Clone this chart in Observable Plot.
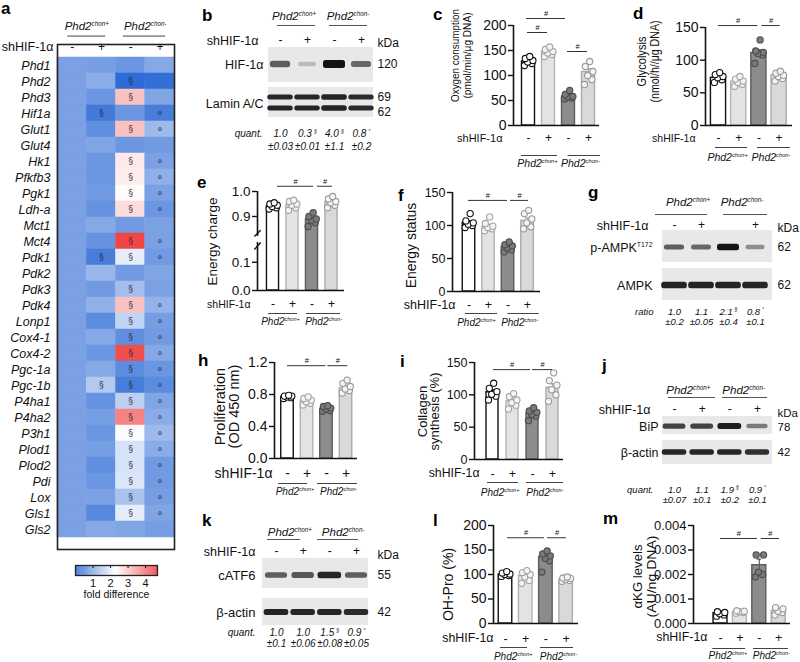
<!DOCTYPE html>
<html><head><meta charset="utf-8">
<script src="https://cdn.jsdelivr.net/npm/d3@7"></script>
<script src="https://cdn.jsdelivr.net/npm/@observablehq/plot@0.6"></script>
<style>
body{margin:0;background:#fff;}
#fig{position:relative;width:800px;height:662px;overflow:hidden;font-family:"Liberation Sans",Arial,sans-serif;background:#fff;}
.panel{position:absolute;}
.letter{position:absolute;font-weight:bold;font-size:17px;line-height:1;color:#000;}
</style></head><body>
<svg width="0" height="0" style="position:absolute"><defs><filter id="blur" x="-30%" y="-80%" width="160%" height="260%"><feGaussianBlur stdDeviation="1.1"/></filter></defs></svg>
<div id="fig"></div>
<script>
// ---------------- shared labels ----------------
const shSigns = ["-", "+", "-", "+"];
const gSigns = ["-", "+", "", "+"];
const genotypes = ["Phd2^chon+", "Phd2^chon-"];

// ---------------- (a) heatmap ----------------
const genes = ["Phd1","Phd2","Phd3","Hif1a","Glut1","Glut4","Hk1","Pfkfb3","Pgk1","Ldh-a","Mct1","Mct4","Pdk1","Pdk2","Pdk3","Pdk4","Lonp1","Cox4-1","Cox4-2","Pgc-1a","Pgc-1b","P4ha1","P4ha2","P3h1","Plod1","Plod2","Pdi","Lox","Gls1","Gls2"];
const foldCtrl = [1,1,1,1,1,1,1,1,1,1,1,1,1,1,1,1,1,1,1,1,1,1,1,1,1,1,1,1,1,1];
const foldSh   = [0.95,1.15,0.85,0.45,0.75,1.05,0.85,0.85,0.9,0.8,1.1,0.8,0.5,1.3,0.9,1.2,0.7,1.1,0.85,1.1,1.55,0.8,0.95,0.85,0.95,0.75,0.85,1.0,0.65,1.1];
const foldKo   = [0.85,0.25,3.0,0.85,3.0,0.85,2.55,2.5,2.35,2.7,0.9,4.4,2.05,0.9,1.4,3.0,1.7,0.75,4.3,0.7,0.5,1.65,3.7,2.25,1.9,1.9,1.95,1.45,2.05,1.05];
const foldKoSh = [1.1,0.3,1.05,0.5,1.35,0.9,1.0,1.2,1.0,0.85,1.0,1.0,0.9,1.05,1.0,1.25,0.95,0.9,1.1,0.85,0.7,1.05,1.15,1.35,1.15,0.9,0.9,0.95,1.05,0.95];
const sigSh = ["Hif1a","Pdk1","Pgc-1b"];
const sigKo = ["Phd2","Phd3","Glut1","Hk1","Pfkfb3","Pgk1","Ldh-a","Mct4","Pdk1","Pdk3","Pdk4","Lonp1","Cox4-1","Cox4-2","Pgc-1a","Pgc-1b","P4ha1","P4ha2","P3h1","Plod1","Plod2","Pdi","Lox","Gls1"];
const sigKoSh = ["Hif1a","Glut1","Hk1","Pfkfb3","Pgk1","Ldh-a","Mct4","Pdk1","Pdk4","Lonp1","Cox4-1","Cox4-2","Pgc-1a","Pgc-1b","P4ha1","P4ha2","P3h1","Plod1","Plod2","Pdi","Lox","Gls1"];
const colorTicks = [1, 2, 3, 4];

// ---------------- bar-chart data ----------------
const o2Mean = [128, 148, 58, 107], o2Sem = [3, 3, 2.5, 7];
const o2Pts = [[120,124,127,130,134,138],[138,142,145,148,152,157],[53,55,57,58,62,70],[82,92,100,108,118,128]];
const o2Sig = [{a:0.9,b:2.85,y:214},{a:0.95,b:1.95,y:186},{a:2.95,b:3.95,y:148}];

const glyMean = [73, 67, 111, 77], glySem = [2.5, 2, 5, 2.5];
const glyPts = [[66,70,73,75,78,81],[60,63,66,68,71,75],[95,108,110,112,114,131],[68,72,75,77,80,83]];
const glySig = [{a:1,b:2.95,y:153},{a:3.15,b:4.05,y:153}];

const ecMean = [0.941, 0.946, 0.889, 0.957], ecSem = [0.004, 0.006, 0.008, 0.007];
const ecPts = [[0.930,0.935,0.940,0.945,0.950,0.955],[0.925,0.935,0.945,0.950,0.960,0.965],[0.860,0.875,0.885,0.890,0.900,0.915],[0.935,0.945,0.955,0.960,0.970,0.980]];
const ecSig = [{a:1.23,b:3.08,y:1.021},{a:3.28,b:4.05,y:1.021}];

const esMean = [104, 98, 68, 107], esSem = [3, 3, 2.5, 4.5];
const esPts = [[97,100,102,104,107,118],[92,95,97,99,103,113],[60,63,66,69,71,75],[95,98,104,110,118,123]];
const esSig = [{a:0.97,b:2.97,y:138},{a:3.13,b:4.05,y:138}];

const prMean = [0.77, 0.72, 0.62, 0.88], prSem = [0.01, 0.015, 0.012, 0.025];
const prPts = [[0.75,0.76,0.77,0.78,0.78,0.79],[0.67,0.69,0.71,0.73,0.75,0.77],[0.59,0.60,0.62,0.63,0.65,0.66],[0.82,0.85,0.87,0.90,0.94,0.98]];
const prSig = [{a:1.0,b:2.97,y:1.16},{a:3.07,b:4.1,y:1.16}];

const coMean = [104, 90, 72, 111], coSem = [4, 4, 3, 6];
const coPts = [[92,98,101,105,110,118],[78,84,88,92,97,102],[60,67,70,73,75,80],[90,100,108,115,122,134]];
const coSig = [{a:1.05,b:2.9,y:139},{a:3.0,b:4.0,y:139}];

const ohMean = [100, 97, 136, 90], ohSem = [1.5, 4, 6, 1.5];
const ohPts = [[96,98,100,101,103,106],[82,88,95,100,104,108],[105,128,133,138,142,148],[86,88,90,92,93,95]];
const ohSig = [{a:1.1,b:2.93,y:175},{a:3.08,b:4.02,y:175}];

const kgMean = [0.00042, 0.00048, 0.00238, 0.00052], kgSem = [0.00004, 0.00002, 0.00025, 0.00005];
const kgPts = [[0.00030,0.00035,0.00040,0.00045,0.00048],[0.00042,0.00045,0.00048,0.00050,0.00052],[0.00190,0.00200,0.00210,0.00280,0.00280],[0.00035,0.00045,0.00050,0.00060,0.00065]];
const kgSig = [{a:1.0,b:2.9,y:0.00347},{a:3.1,b:4.04,y:0.00347}];

// ---------------- western blot data ----------------
const hifDens = [0.6, 0.1, 1.0, 0.55], laminDens = [0.9, 0.9, 0.92, 0.88];
const hifQ = [1.0, 0.3, 4.0, 0.8], hifQsem = [0.03, 0.01, 1.1, 0.2], hifQsig = ["", "§", "§", "°"];
const pampkDens = [0.6, 0.55, 1.0, 0.35], ampkDens = [0.92, 0.92, 0.92, 0.9];
const ampkQ = [1.0, 1.1, 2.1, 0.8], ampkQsem = [0.2, 0.05, 0.4, 0.1], ampkQsig = ["", "", "§", "°"];
const bipDens = [0.75, 0.75, 0.95, 0.45], actinJDens = [0.9, 0.9, 0.9, 0.85];
const bipQ = [1.0, 1.1, 1.9, 0.9], bipQsem = [0.07, 0.1, 0.2, 0.1], bipQsig = ["", "", "§", "°"];
const atf6Dens = [0.6, 0.65, 0.9, 0.6], actinKDens = [0.92, 0.9, 0.9, 0.88];
const atf6Q = [1.0, 1.0, 1.5, 0.9], atf6Qsem = [0.1, 0.06, 0.08, 0.05], atf6Qsig = ["", "", "§", "°"];

// ---------------- styling ----------------
const FONT = "'Liberation Sans', Arial, Helvetica, sans-serif";
const barFill = ["#ffffff", "#e3e3e3", "#8c8c8c", "#d9d9d9"];
const barStroke = ["#111111", "#b4b4b4", "#5c5c5c", "#ababab"];
const dotFill = ["#ffffff", "#f4f4f4", "#7a7a7a", "#f4f4f4"];
const dotStroke = ["#111111", "#a4a4a4", "#4c4c4c", "#9a9a9a"];
const swarm = [-0.2, 0.17, -0.04, 0.22, -0.16, 0.06];
const FIT = {"Oxygen consumption": 93, "(pmol/min/μg DNA)": 86, "Glycolysis": 50, "(nmol/h//μg DNA)": 82, "αKG levels": 64, "(AU/ng DNA)": 82};
const blue = "#1559d0", white = "#ffffff", red = "#ee2b2b", pivot = 2.3 / 4.7;
const foldColor = t => t < pivot ? d3.interpolateRgb(blue, white)(t / pivot) : d3.interpolateRgb(white, red)((t - pivot) / (1 - pivot));
// broken-axis mapping for panel e (value -> pixels above the baseline)
const ecBreak = v => v <= 0.17 ? v / 0.17 * 48 : v <= 0.82 ? 48 + (v - 0.17) / 0.65 * 6 : 54 + (v - 0.82) / 0.18 * 45;

const fig = document.getElementById("fig");
const NS = "http://www.w3.org/2000/svg";

function finish(svg) {
  svg.querySelectorAll("text").forEach(t => {
    const s = t.textContent;
    if (s.includes("^")) {
      const [a, b] = s.split("^");
      t.textContent = "";
      const t1 = document.createElementNS(NS, "tspan"); t1.textContent = a;
      const t2 = document.createElementNS(NS, "tspan"); t2.textContent = b;
      t2.setAttribute("font-size", "55%"); t2.setAttribute("dy", "-0.62em");
      t.append(t1, t2);
    }
    if (FIT[s] != null) { t.setAttribute("textLength", FIT[s]); t.setAttribute("lengthAdjust", "spacingAndGlyphs"); }
  });
  svg.querySelectorAll('g[aria-label="band"]').forEach(g => g.setAttribute("filter", "url(#blur)"));
}

function mkPlot(box, opts) {
  const svg = Plot.plot({
    width: box.w, height: box.h, ...opts,
    style: {background: "none", fontFamily: FONT, fontSize: "12px", color: "#111", overflow: "visible"}
  });
  finish(svg);
  const d = document.createElement("div");
  d.className = "panel"; d.style.left = box.x + "px"; d.style.top = box.y + "px";
  d.appendChild(svg); fig.appendChild(d);
  return svg;
}

function letter(ch, x, y) {
  const d = document.createElement("div");
  d.className = "letter"; d.textContent = ch; d.style.left = x + "px"; d.style.top = y + "px";
  fig.appendChild(d);
}

// ---------------- bar panel ----------------
function barPanel(L, mean, sem, pts, sigs) {
  const xmin = 1 - (L.c1 - L.axisX) / L.s, xmax = 1 + (L.xEnd - L.c1) / L.s;
  const groups = mean.map((m, i) => ({g: i + 1, m, e: sem[i], fill: barFill[i], stroke: barStroke[i]}));
  const dots = pts.flatMap((arr, i) => arr.map((v, j) => ({x: i + 1 + swarm[j], v, fill: dotFill[i], stroke: dotStroke[i]})));
  const ymax = L.top;
  const yOpt = L.transform
    ? {transform: L.transform, domain: [0, L.transform(ymax)], label: null, axis: null}
    : {domain: [0, ymax], label: null, axis: null};
  const fmt = d3.format(L.fmt);
  const hb = L.bw / 2;
  const tick = 5 / L.s; // 5px tick length in x units
  const segs = L.axisSegs || [[0, ymax]];
  const gs = L.glShift || [0, 0];
  const marks = [
    Plot.rect(groups, {x1: d => d.g - hb, x2: d => d.g + hb, y1: 0, y2: "m", fill: "fill", stroke: "stroke", strokeWidth: 1.4}),
    Plot.ruleX(groups, {x: "g", y1: d => d.m - d.e, y2: d => d.m + d.e, stroke: "stroke", strokeWidth: 1.2}),
    Plot.ruleY(groups, {y: d => d.m + d.e, x1: d => d.g - 0.13, x2: d => d.g + 0.13, stroke: "stroke", strokeWidth: 1.2}),
    Plot.dot(dots, {x: "x", y: "v", r: 3.1, fill: "fill", stroke: "stroke", strokeWidth: 1.1}),
    Plot.ruleX(segs, {x: xmin, y1: d => d[0], y2: d => d[1], stroke: "#111", strokeWidth: 1.6}),
    Plot.ruleY([0], {x1: xmin, x2: xmax, stroke: "#111", strokeWidth: 1.6}),
    Plot.ruleY(L.ticks, {y: d => d, x1: xmin - tick, x2: xmin, stroke: "#111", strokeWidth: 1.4}),
    Plot.text(L.ticks, {x: xmin, y: d => d, dx: -7, text: d => fmt(d), textAnchor: "end", fontSize: L.tickFont}),
    Plot.text(shSigns, {x: (d, i) => i + 1, y: 0, dy: L.rowY - L.y0, fontSize: L.signFont}),
    Plot.text(["shHIF-1α"], {x: xmin, y: 0, dx: L.shRight - L.axisX, dy: L.rowY - L.y0, textAnchor: "end", fontSize: L.shFont}),
    Plot.ruleY(L.ul, {y: 0, x1: d => d[0], x2: d => d[1], dy: L.ulY - L.y0, stroke: "#444", strokeWidth: 1}),
    Plot.text(genotypes, {x: (d, i) => 2 * i + 1.5 + gs[i], y: 0, dy: L.glY - L.y0, fontStyle: "italic", fontSize: L.glFont}),
    Plot.ruleY(sigs, {y: "y", x1: "a", x2: "b", stroke: "#333", strokeWidth: 1}),
    Plot.text(sigs, {x: d => (d.a + d.b) / 2, y: "y", text: () => "#", dy: -5, fontSize: 7.5}),
    ...L.title.map((t, i) => Plot.text([t], {x: xmin, y: 0, rotate: -90, dx: L.titleX[i] - L.axisX, dy: L.titleCY - L.y0, fontSize: L.titleFont}))
  ];
  if (L.breaks) {
    marks.push(Plot.link([{a: 0.82, b: 0.845}, {a: 0.145, b: 0.17}],
      {x1: xmin - 0.16, x2: xmin + 0.16, y1: "a", y2: "b", stroke: "#111", strokeWidth: 1.4}));
  }
  return mkPlot(L.box, {
    marginLeft: L.axisX - L.box.x, marginRight: L.box.x + L.box.w - L.xEnd,
    marginTop: L.yTop - L.box.y, marginBottom: L.box.y + L.box.h - L.y0,
    x: {domain: [xmin, xmax], axis: null},
    y: yOpt,
    color: {type: "identity"},
    marks
  });
}

// ---------------- blot panel ----------------
function blotPanel(L, dens, q, qsem, qsig) {
  const sp = (L.lanes[3] - L.lanes[0]) / 3;
  const u = px => (px - L.lanes[0]) / sp + 1;
  const bands = [];
  L.blots.forEach((b, bi) => dens[bi].forEach((dv, li) => b.bandY.forEach(by => bands.push({lane: li + 1, y: by, d: dv, w: b.w / sp, th: b.th}))));
  const boxes = L.blots.map(b => ({x1: u(L.boxX[0]), x2: u(L.boxX[1]), y1: b.top, y2: b.bottom}));
  const kd = L.blots.flatMap(b => b.kd.map(([t, y]) => ({t, y})));
  const q1 = q.map((v, i) => d3.format(".1f")(v) + (qsig[i] ? "\u2009^" + qsig[i] : ""));
  const q2 = qsem.map(v => "±" + v);
  const F = L.font;
  return mkPlot(L.box, {
    x: {domain: [1, 4], range: [L.lanes[0] - L.box.x, L.lanes[3] - L.box.x], axis: null},
    y: {domain: [L.box.y, L.box.y + L.box.h], range: [0, L.box.h], axis: null},
    opacity: {type: "identity"},
    marks: [
      Plot.rect(boxes, {x1: "x1", x2: "x2", y1: "y1", y2: "y2", fill: "#e8e8e8"}),
      Plot.rect(bands, {
        x1: d => d.lane - d.w * (0.8 + 0.2 * d.d) / 2, x2: d => d.lane + d.w * (0.8 + 0.2 * d.d) / 2,
        y1: d => d.y - d.th * (0.5 + 0.5 * d.d) / 2, y2: d => d.y + d.th * (0.5 + 0.5 * d.d) / 2,
        fill: "#141414", fillOpacity: d => 0.12 + 0.88 * d.d, rx: 2.5, ariaLabel: "band"}),
      Plot.text(L.blots, {x: u(L.labelRight), y: "labelY", text: "label", textAnchor: "end", fontSize: F.label}),
      Plot.text(kd, {x: u(L.kda.x), y: "y", text: "t", textAnchor: "start", fontSize: F.kd}),
      Plot.text(["kDa"], {x: u(L.kda.x), y: L.kda.y, textAnchor: "start", fontSize: F.kd}),
      Plot.text(genotypes, {x: (d, i) => 2 * i + 1.5, y: L.hdrY, fontStyle: "italic", fontSize: F.hdr}),
      Plot.ruleY(L.ul, {y: L.ulY, x1: d => u(d[0]), x2: d => u(d[1]), stroke: "#555", strokeWidth: 1}),
      Plot.text(L.signs, {x: (d, i) => i + 1, y: L.signY, fontSize: F.sign}),
      Plot.text(["shHIF-1α"], {x: u(L.shRight), y: L.signY, textAnchor: "end", fontSize: F.sh}),
      Plot.text([L.quant.label], {x: u(L.quant.right), y: L.quant.y1, textAnchor: "end", fontStyle: "italic", fontSize: F.q}),
      Plot.text(q1, {x: (d, i) => i + 1, y: L.quant.y1, fontStyle: "italic", fontSize: F.q}),
      Plot.text(q2, {x: (d, i) => i + 1, y: L.quant.y2, fontStyle: "italic", fontSize: F.q})
    ]
  });
}

// ================= (a) heatmap =================
const heatCols = [foldCtrl, foldSh, foldKo, foldKoSh];
const cells = genes.flatMap((g, r) => heatCols.map((arr, c) => ({gene: g, col: c + 1, v: arr[r]})));
const annotS = [...sigSh.map(g => ({gene: g, col: 2})), ...sigKo.map(g => ({gene: g, col: 3}))];
const annotO = sigKoSh.map(g => ({gene: g, col: 4}));
const rowH = (549 - 44) / genes.length, rc0 = 44 + rowH / 2;
const colorOpt = {type: "linear", domain: [0, 4.7], interpolate: foldColor};
mkPlot({x: 0, y: 0, w: 200, h: 560}, {
  marginLeft: 57, marginRight: 26, marginTop: 44, marginBottom: 11,
  x: {domain: [0.5, 4.5], axis: null},
  y: {domain: genes, padding: 0, axis: null},
  color: colorOpt,
  marks: [
    Plot.barX(cells, {x1: d => d.col - 0.5, x2: d => d.col + 0.5, y: "gene", fill: "v", stroke: "v", strokeWidth: 0.5}),
    Plot.text(annotS, {x: "col", y: "gene", text: () => "§", fontSize: 8.5, fill: "#262a40"}),
    Plot.text(annotO, {x: "col", y: "gene", text: () => "°", fontSize: 12, dy: 3, fill: "#262a40"}),
    Plot.frame({stroke: "#222", strokeWidth: 1.6}),
    Plot.text(genes, {y: d => d, frameAnchor: "left", dx: -7, textAnchor: "end", fontStyle: "italic", fontSize: 12.5}),
    Plot.text(shSigns, {x: (d, i) => i + 1, y: () => genes[0], dy: 34 - rc0, fontSize: 12}),
    Plot.text(["shHIF-1α"], {x: 0.5, y: () => genes[0], dx: -4, dy: 34 - rc0, textAnchor: "end", fontSize: 12.5}),
    Plot.text(genotypes, {x: (d, i) => 2 * i + 1.5, y: () => genes[0], dy: 13 - rc0, fontStyle: "italic", fontSize: 11.5}),
    Plot.ruleY([[0.85, 2.15], [2.75, 4.2]], {y: () => genes[0], x1: d => d[0], x2: d => d[1], dy: 23 - rc0, stroke: "#444", strokeWidth: 1})
  ]
});
// colour bar
const cbSteps = d3.range(0, 4.68, 0.03).map(v => ({a: v, b: v + 0.032}));
mkPlot({x: 60, y: 555, w: 120, h: 50}, {
  marginLeft: 15, marginRight: 23, marginTop: 10, marginBottom: 30,
  x: {domain: [0, 4.68], axis: null},
  y: {domain: [0, 1], axis: null},
  color: colorOpt,
  marks: [
    Plot.rect(cbSteps, {x1: "a", x2: "b", y1: 0, y2: 1, fill: "a"}),
    Plot.ruleX(colorTicks, {y1: 1, y2: 0.7, stroke: "#111", strokeWidth: 1}),
    Plot.frame({stroke: "#222", strokeWidth: 1.3}),
    Plot.text(colorTicks, {x: d => d, y: 0, dy: 8, fontSize: 11}),
    Plot.text(["fold difference"], {frameAnchor: "bottom", dy: 22, fontSize: 10.5})
  ]
});

// ================= bar panels =================
barPanel({box:{x:400,y:0,w:200,h:175}, axisX:513, c1:528, s:20, xEnd:599, yTop:25, y0:125, top:200, ticks:[0,50,100,150,200], fmt:"d", tickFont:14, bw:0.65, rowY:138, shRight:502, shFont:11, signFont:12, ulY:155, ul:[[0.65,2.45],[2.98,4.6]], glY:163, glFont:10.5, glShift:[-0.05,0.1], title:["Oxygen consumption","(pmol/min/μg DNA)"], titleX:[455,467], titleCY:55, titleFont:10.5},
  o2Mean, o2Sem, o2Pts, o2Sig);
barPanel({box:{x:600,y:0,w:200,h:175}, axisX:705, c1:718, s:20.2, xEnd:792, yTop:27, y0:125, top:150, ticks:[0,50,100,150], fmt:"d", tickFont:14, bw:0.75, rowY:138, shRight:695, shFont:10.5, signFont:12, ulY:147, ul:[[0.85,2.44],[2.93,4.56]], glY:157, glFont:10.5, glShift:[-0.05,0.1], title:["Glycolysis","(nmol/h//μg DNA)"], titleX:[641,654], titleCY:61, titleFont:13},
  glyMean, glySem, glyPts, glySig);
barPanel({box:{x:200,y:175,w:200,h:160}, axisX:257, c1:272.5, s:19.5, xEnd:344, yTop:191, y0:290, top:1.0, transform: ecBreak, axisSegs:[[0,0.17],[0.82,1.0]], breaks:true, ticks:[0,0.1,0.9,1.0], fmt:".1f", tickFont:13.5, bw:0.62, rowY:304, shRight:250, shFont:10.5, signFont:12, ulY:313, ul:[[0.77,2.26],[2.72,4.46]], glY:321, glFont:10, glShift:[-0.12,0.1], title:["Energy charge"], titleX:[212], titleCY:241, titleFont:13.5},
  ecMean, ecSem, ecPts, ecSig);
barPanel({box:{x:400,y:175,w:200,h:160}, axisX:452, c1:468.5, s:19.5, xEnd:540, yTop:192, y0:291, top:150, ticks:[0,50,100,150], fmt:"d", tickFont:12.5, bw:0.64, rowY:304, shRight:455, shFont:12.5, signFont:12.5, ulY:313, ul:[[0.82,2.46],[3.0,4.6]], glY:322, glFont:10, glShift:[-0.12,0.1], title:["Energy status"], titleX:[411], titleCY:245, titleFont:14},
  esMean, esSem, esPts, esSig);
barPanel({box:{x:200,y:340,w:200,h:165}, axisX:274, c1:287, s:19.5, xEnd:357, yTop:362, y0:458, top:1.2, ticks:[0,0.4,0.8,1.2], fmt:".1f", tickFont:14, bw:0.64, rowY:473, shRight:272, shFont:14, signFont:14, ulY:483, ul:[[0.54,2.03],[2.54,4.59]], glY:491, glFont:10, glShift:[-0.12,0.12], title:["Proliferation","(OD 450 nm)"], titleX:[220,234], titleCY:406, titleFont:14.5},
  prMean, prSem, prPts, prSig);
barPanel({box:{x:400,y:340,w:200,h:165}, axisX:474, c1:492, s:20, xEnd:563, yTop:362, y0:459, top:150, ticks:[0,50,100,150], fmt:"d", tickFont:12.5, bw:0.6, rowY:473, shRight:479, shFont:12.3, signFont:12.5, ulY:482, ul:[[0.75,2.3],[2.7,4.55]], glY:492, glFont:10, glShift:[-0.12,0.12], title:["Collagen","synthesis (%)"], titleX:[422,434], titleCY:411, titleFont:13},
  coMean, coSem, coPts, coSig);
barPanel({box:{x:400,y:505,w:200,h:157}, axisX:493, c1:505, s:20.2, xEnd:578, yTop:525, y0:623, top:200, ticks:[0,50,100,150,200], fmt:"d", tickFont:14, bw:0.67, rowY:638, shRight:493, shFont:12.4, signFont:12.5, ulY:647, ul:[[0.75,2.09],[2.73,4.37]], glY:656, glFont:10, glShift:[-0.12,0.12], title:["OH-Pro (%)"], titleX:[448], titleCY:584, titleFont:14},
  ohMean, ohSem, ohPts, ohSig);
barPanel({box:{x:600,y:508,w:200,h:154}, axisX:693, c1:720, s:19.4, xEnd:790, yTop:525, y0:623, top:0.004, ticks:[0,0.001,0.002,0.003,0.004], fmt:".3f", tickFont:13, bw:0.72, rowY:637, shRight:707, shFont:12.4, signFont:12.5, ulY:648, ul:[[0.6,2.3],[2.7,4.5]], glY:655, glFont:10, glShift:[-0.12,0.12], title:["αKG levels","(AU/ng DNA)"], titleX:[637,651], titleCY:576, titleFont:13.5},
  kgMean, kgSem, kgPts, kgSig);

// ================= blot panels =================
const fontB = {label: 12.5, kd: 12, hdr: 11.5, sign: 12, sh: 12.5, q: 10};
blotPanel({box:{x:200,y:0,w:200,h:175}, lanes:[280,308,335,361], boxX:[268,373], hdrY:16, ulY:25, ul:[[277,315],[329,367]], signY:40, signs: shSigns, shRight:258, kda:{x:377,y:43},
  blots:[{label:"HIF-1α", labelY:64, top:47, bottom:82, bandY:[64], w:22, th:8, kd:[["120",64]]},
         {label:"Lamin A/C", labelY:103, top:87, bottom:117, bandY:[97,108], w:26, th:5.5, kd:[["69",97],["62",112]]}],
  labelRight:263, quant:{label:"quant.", right:262, y1:133, y2:146}, font: fontB},
  [hifDens, laminDens], hifQ, hifQsem, hifQsig);
blotPanel({box:{x:570,y:178,w:230,h:160}, lanes:[674,699,728,755], boxX:[662,772], hdrY:202, ulY:214, ul:[[655,707],[723,767]], signY:225, signs: gSigns, shRight:648, kda:{x:777,y:228},
  blots:[{label:"p-AMPK^T172", labelY:247, top:230, bottom:262, bandY:[247], w:22, th:6.5, kd:[["62",247]]},
         {label:"AMPK", labelY:285, top:268, bottom:300, bandY:[285], w:26, th:7, kd:[["62",285]]}],
  labelRight:652, quant:{label:"ratio", right:653, y1:311, y2:321}, font: {...fontB, q: 9.5}},
  [pampkDens, ampkDens], ampkQ, ampkQsem, ampkQsig);
blotPanel({box:{x:570,y:340,w:230,h:168}, lanes:[674,699,728,757], boxX:[662,772], hdrY:390, ulY:397, ul:[[668,715],[722,767]], signY:409, signs: shSigns, shRight:650, kda:{x:777,y:413},
  blots:[{label:"BiP", labelY:426, top:416, bottom:434, bandY:[426], w:24, th:6, kd:[["78",427]]},
         {label:"β-actin", labelY:452, top:440, bottom:464, bandY:[452], w:25, th:6, kd:[["42",452]]}],
  labelRight:658, quant:{label:"quant.", right:653, y1:489, y2:499}, font: {...fontB, kd: 11.5, q: 9.5}},
  [bipDens, actinJDens], bipQ, bipQsem, bipQsig);
blotPanel({box:{x:200,y:505,w:200,h:157}, lanes:[276,301,330,356], boxX:[262,368], hdrY:532, ulY:539, ul:[[267,300],[317,358]], signY:551, signs: shSigns, shRight:255, kda:{x:377,y:555},
  blots:[{label:"cATF6", labelY:575, top:558, bottom:588, bandY:[575], w:24, th:7, kd:[["55",575]]},
         {label:"β-actin", labelY:612, top:598, bottom:625, bandY:[612], w:25, th:6.5, kd:[["42",612]]}],
  labelRight:255, quant:{label:"quant.", right:255, y1:632, y2:643}, font: {...fontB, label: 13, q: 10}},
  [atf6Dens, actinKDens], atf6Q, atf6Qsem, atf6Qsig);

// ================= panel letters =================
[["a",1,0],["b",202,6.5],["c",433,5.5],["d",633,4.5],["e",197,173.5],["f",398,186.5],["g",588,183.5],
 ["h",198,351.5],["i",400,352.5],["j",602,356.5],["k",202,511.5],["l",433,511.5],["m",603,509.5]].forEach(([c,x,y]) => letter(c, x, y));
</script></body></html>
